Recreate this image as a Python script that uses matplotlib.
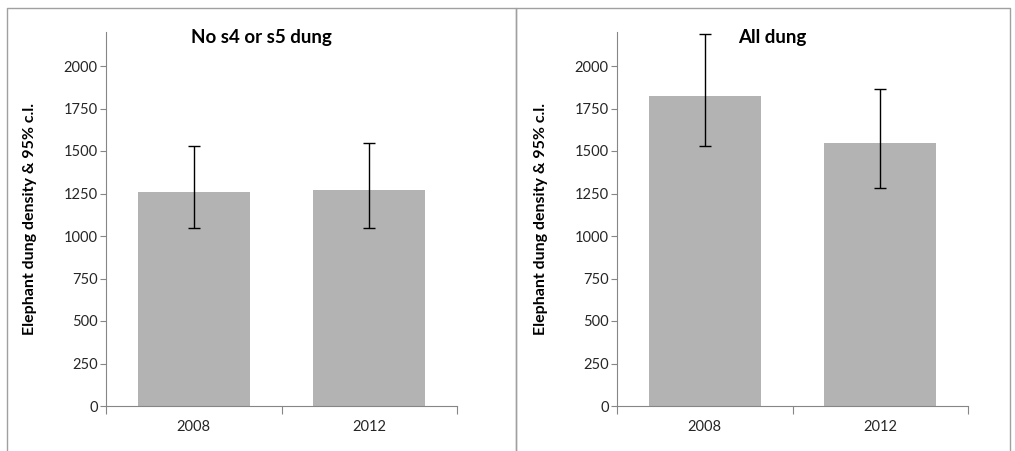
import matplotlib
matplotlib.use("Agg")
import matplotlib.pyplot as plt
from matplotlib.lines import Line2D

plt.rcParams['font.family'] = ['Lato', 'DejaVu Sans']

years = ['2008', '2012']

# density estimates with 95% confidence limits
no_s4s5 = [1259, 1271]
no_s4s5_lo = [1047, 1047]
no_s4s5_hi = [1529, 1547]

all_dung = [1825, 1549]
all_dung_lo = [1529, 1281]
all_dung_hi = [2190, 1866]

yticks = [0, 250, 500, 750, 1000, 1250, 1500, 1750, 2000]

W, H = 1015, 451
fig = plt.figure(figsize=(W / 100, H / 100), dpi=100)

# chart area frames
frame = '#a0a0a0'
for x0, x1 in [(7, 516), (516, 1010)]:
    xs = [x0 / W, x0 / W, x1 / W, x1 / W]
    ys = [-0.1, 1 - 8 / H, 1 - 8 / H, -0.1]
    fig.add_artist(Line2D(xs, ys, color=frame, lw=1.0))


def panel(left, vals, lo, hi, title, tx):
    ax = fig.add_axes([left / W, 45 / H, 351 / W, 374 / H])
    x = range(len(vals))
    err = [[v - l for v, l in zip(vals, lo)], [h - v for v, h in zip(vals, hi)]]
    ax.bar(x, vals, width=0.64, color='#b3b3b3', zorder=2)
    ax.errorbar(x, vals, yerr=err, fmt='none', ecolor='black', elinewidth=1,
                capsize=4, capthick=1, zorder=3)
    ax.set_xlim(-0.5, 1.5)
    ax.set_ylim(0, 2200)
    ax.set_yticks(yticks)
    ax.set_yticklabels([str(t) for t in yticks])
    ax.set_xticks([-0.5, 0.5, 1.5])
    ax.set_xticklabels([])
    ax.set_xticks([0, 1], minor=True)
    ax.set_xticklabels(years, minor=True)
    ax.tick_params(axis='x', which='major', direction='out', length=6,
                   color='#868686')
    ax.tick_params(axis='x', which='minor', length=0, pad=10,
                   labelsize=10.5, labelcolor='#262626')
    ax.tick_params(axis='y', direction='out', length=4.5, pad=1.5,
                   color='#868686', labelsize=10.5, labelcolor='#262626')
    for s in ['top', 'right']:
        ax.spines[s].set_visible(False)
    for s in ['left', 'bottom']:
        ax.spines[s].set_color('#868686')
    ax.set_ylabel('Elephant dung density & 95% c.l.', fontsize=11.5,
                  fontweight='bold')
    ax.yaxis.set_label_coords(-0.198, 0.5)
    fig.text(tx / W, 1 - 37 / H, title, ha='center', va='center',
             fontsize=13.5, fontweight='bold')
    return ax


panel(106, no_s4s5, no_s4s5_lo, no_s4s5_hi, 'No s4 or s5 dung', 261)
panel(617, all_dung, all_dung_lo, all_dung_hi, 'All dung', 772)

fig.savefig('out.png', dpi=100)
